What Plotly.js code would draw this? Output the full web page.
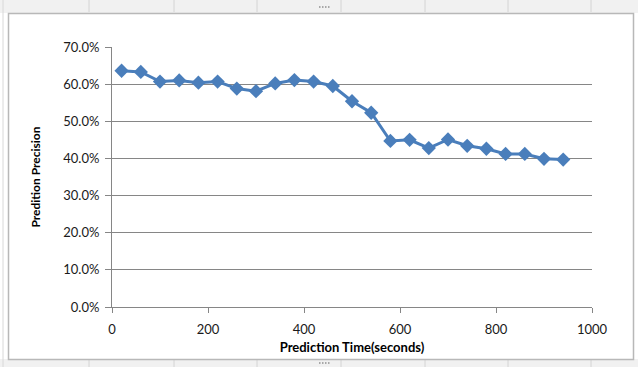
<!DOCTYPE html>
<html>
<head>
<meta charset="utf-8">
<script src="https://cdn.plot.ly/plotly-3.0.1.min.js"></script>
<style>html,body{margin:0;padding:0;background:#fff;}#chart{width:638px;height:367px;}</style>
</head>
<body>
<div id="chart"></div>
<script>
// Data
var predictionTime = [20, 60, 100, 140, 180, 220, 260, 300, 340, 380, 420, 460, 500, 540, 580, 620, 660, 700, 740, 780, 820, 860, 900, 940];
var precision = [0.636, 0.633, 0.607, 0.610, 0.604, 0.607, 0.588, 0.581, 0.602, 0.611, 0.607, 0.595, 0.554, 0.523, 0.447, 0.450, 0.428, 0.451, 0.434, 0.426, 0.412, 0.412, 0.399, 0.397];
var xTickVals = [0, 200, 400, 600, 800, 1000];
var yTickVals = [0, 0.1, 0.2, 0.3, 0.4, 0.5, 0.6, 0.7];
var yTickText = ["0.0%", "10.0%", "20.0%", "30.0%", "40.0%", "50.0%", "60.0%", "70.0%"];
var columnEdges = [89, 174, 257, 341, 425, 508, 591];

// pixel -> paper helpers (plot area: x 112..592, y 47..307)
var L = 112, R = 46, T = 47, B = 60, W = 638, H = 367;
var pw = W - L - R, ph = H - T - B;
function px(x) { return (x - L) / pw; }
function py(y) { return (H - B - y) / ph; }

var shapes = [];
// top and bottom spreadsheet strips
shapes.push({type:'rect', xref:'paper', yref:'paper', x0:px(0), x1:px(W), y0:py(0), y1:py(13), fillcolor:'#f1f1f1', line:{width:0}, layer:'below'});
shapes.push({type:'rect', xref:'paper', yref:'paper', x0:px(0), x1:px(W), y0:py(359), y1:py(H), fillcolor:'#f1f1f1', line:{width:0}, layer:'below'});
columnEdges.forEach(function (c) {
  shapes.push({type:'line', xref:'paper', yref:'paper', x0:px(c), x1:px(c), y0:py(0), y1:py(12), line:{color:'#d4d4d4', width:1}, layer:'below'});
  shapes.push({type:'line', xref:'paper', yref:'paper', x0:px(c), x1:px(c), y0:py(360), y1:py(H), line:{color:'#d4d4d4', width:1}, layer:'below'});
});
// left strip line
shapes.push({type:'line', xref:'paper', yref:'paper', x0:px(3), x1:px(3), y0:py(0), y1:py(H), line:{color:'#d8d8d8', width:1}, layer:'below'});
// chart area
shapes.push({type:'rect', xref:'paper', yref:'paper', x0:px(8.5), x1:px(633.5), y0:py(13.5), y1:py(359.5), fillcolor:'#ffffff', line:{color:'#b8b8b8', width:1.5}, layer:'below'});
// resize handles (small dotted grips) at top and bottom centre
[319, 322, 325, 328].forEach(function (hx) {
  shapes.push({type:'rect', xref:'paper', yref:'paper', x0:px(hx), x1:px(hx + 1.5), y0:py(6), y1:py(8), fillcolor:'#a8a8a8', line:{width:0}, layer:'below'});
  shapes.push({type:'rect', xref:'paper', yref:'paper', x0:px(hx), x1:px(hx + 1.5), y0:py(362), y1:py(364), fillcolor:'#a8a8a8', line:{width:0}, layer:'below'});
});

var trace = {
  x: predictionTime,
  y: precision,
  type: 'scatter',
  mode: 'lines+markers',
  line: {color: '#4a7ebb', width: 3},
  marker: {symbol: 'diamond', size: 11, color: '#4a7ebb'},
  hoverinfo: 'skip'
};

var font = "Lato, 'Liberation Sans', Arial, sans-serif";
var layout = {
  width: W, height: H,
  margin: {l: L, r: R, t: T, b: B, pad: 0},
  paper_bgcolor: '#ffffff',
  plot_bgcolor: 'rgba(0,0,0,0)',
  showlegend: false,
  font: {family: font, size: 13, color: '#1a1a1a'},
  xaxis: {
    range: [0, 1000], tickvals: xTickVals, ticktext: xTickVals.map(String),
    showgrid: false, zeroline: false, showline: true, linecolor: '#868686', linewidth: 1,
    ticks: 'outside', ticklen: 5, tickcolor: '#868686', ticklabelstandoff: 5,
    tickfont: {family: font, size: 13, color: '#1a1a1a'},
    title: {text: 'Prediction Time(seconds)', font: {family: font, size: 13, color: '#000', weight: 'bold'}, standoff: 7}
  },
  yaxis: {
    range: [0, 0.7], tickvals: yTickVals, ticktext: yTickText,
    showgrid: true, gridcolor: '#868686', gridwidth: 1, zeroline: false,
    showline: true, linecolor: '#868686', linewidth: 1,
    ticks: 'outside', ticklen: 6, tickcolor: '#868686', ticklabelstandoff: 3,
    tickfont: {family: font, size: 13, color: '#1a1a1a'},
    title: {text: 'Predition Precision', font: {family: font, size: 12, color: '#000', weight: 'bold'}, standoff: 20}
  },
  shapes: shapes
};

Plotly.newPlot('chart', [trace], layout, {displayModeBar: false, staticPlot: true});
</script>
</body>
</html>
